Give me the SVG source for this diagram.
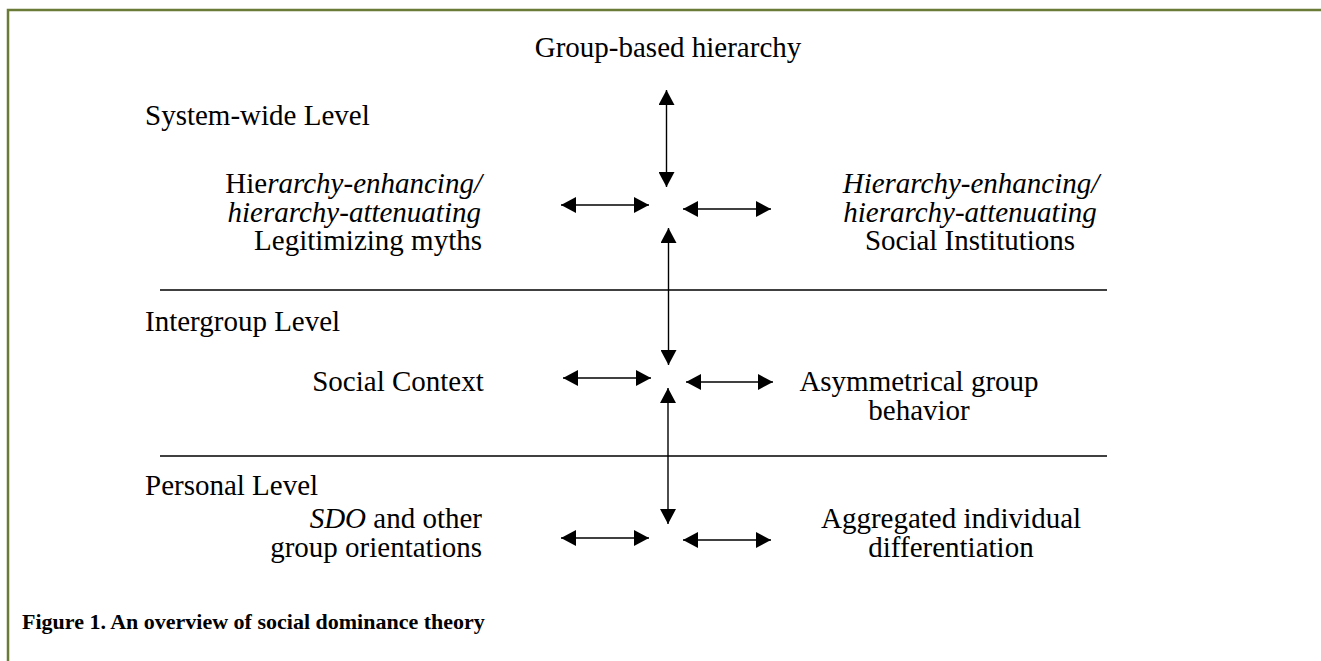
<svg xmlns="http://www.w3.org/2000/svg" width="1321" height="661" viewBox="0 0 1321 661">
<style>
text{font-family:"Liberation Serif",serif;font-size:29px;font-weight:normal;fill:#000}
.i{font-style:italic}
.c{text-anchor:middle}
.e{text-anchor:end}
.cap{font-weight:bold;font-size:22px}
.ar{stroke:#000;stroke-width:1.4;fill:none;marker-start:url(#h);marker-end:url(#h)}
.sep{stroke:#000;stroke-width:1.4}
</style>
<defs>
<marker id="h" markerUnits="userSpaceOnUse" markerWidth="16" markerHeight="16" refX="15" refY="8" orient="auto-start-reverse" viewBox="0 0 16 16">
<path d="M0,0 L15,8 L0,16 z" fill="#000"/>
</marker>
</defs>
<rect width="1321" height="661" fill="#fff"/>
<g id="frame" stroke="#6a7a37" stroke-width="2.5" fill="none">
<path d="M8,661 V10 H1321"/>
</g>
<g id="separators">
<line class="sep" x1="160" y1="290" x2="1107" y2="290"/>
<line class="sep" x1="160" y1="456" x2="1107" y2="456"/>
</g>
<g id="levels">
<text x="145" y="125">System-wide Level</text>
<text x="145" y="331">Intergroup Level</text>
<text x="145" y="495">Personal Level</text>
</g>
<g id="group-based-hierarchy"><text class="c" x="668" y="57">Group-based hierarchy</text></g>
<g id="legitimizing-myths">
<text class="e" x="482" y="193">Hie<tspan class="i">rarchy-enhancing/</tspan></text>
<text class="e i" x="481" y="222">hierarchy-attenuating</text>
<text class="e" x="482" y="250">Legitimizing myths</text>
</g>
<g id="social-institutions">
<text class="c i" x="971" y="193">Hierarchy-enhancing/</text>
<text class="c i" x="970" y="222">hierarchy-attenuating</text>
<text class="c" x="970" y="250">Social Institutions</text>
</g>
<g id="social-context"><text class="c" x="398" y="391">Social Context</text></g>
<g id="asymmetrical-group-behavior">
<text class="c" x="919" y="391">Asymmetrical group</text>
<text class="c" x="919" y="420">behavior</text>
</g>
<g id="sdo">
<text class="e" x="482" y="528"><tspan class="i">SDO</tspan> and other</text>
<text class="e" x="482" y="557">group orientations</text>
</g>
<g id="aggregated-individual-differentiation">
<text class="c" x="951" y="528">Aggregated individual</text>
<text class="c" x="951" y="557">differentiation</text>
</g>
<g id="connectors">
<line class="ar" x1="666.5" y1="90" x2="666.5" y2="187"/>
<line class="ar" x1="561" y1="205" x2="649" y2="205"/>
<line class="ar" x1="683" y1="209" x2="771" y2="209"/>
<line class="ar" x1="668.5" y1="228" x2="668.5" y2="365"/>
<line class="ar" x1="563" y1="378" x2="651" y2="378"/>
<line class="ar" x1="686" y1="382" x2="773" y2="382"/>
<line class="ar" x1="668" y1="388" x2="668" y2="524"/>
<line class="ar" x1="561" y1="538" x2="649" y2="538"/>
<line class="ar" x1="683" y1="540" x2="771" y2="540"/>
</g>
<g id="caption"><text class="cap" x="22" y="629">Figure 1. An overview of social dominance theory</text></g>
</svg>
